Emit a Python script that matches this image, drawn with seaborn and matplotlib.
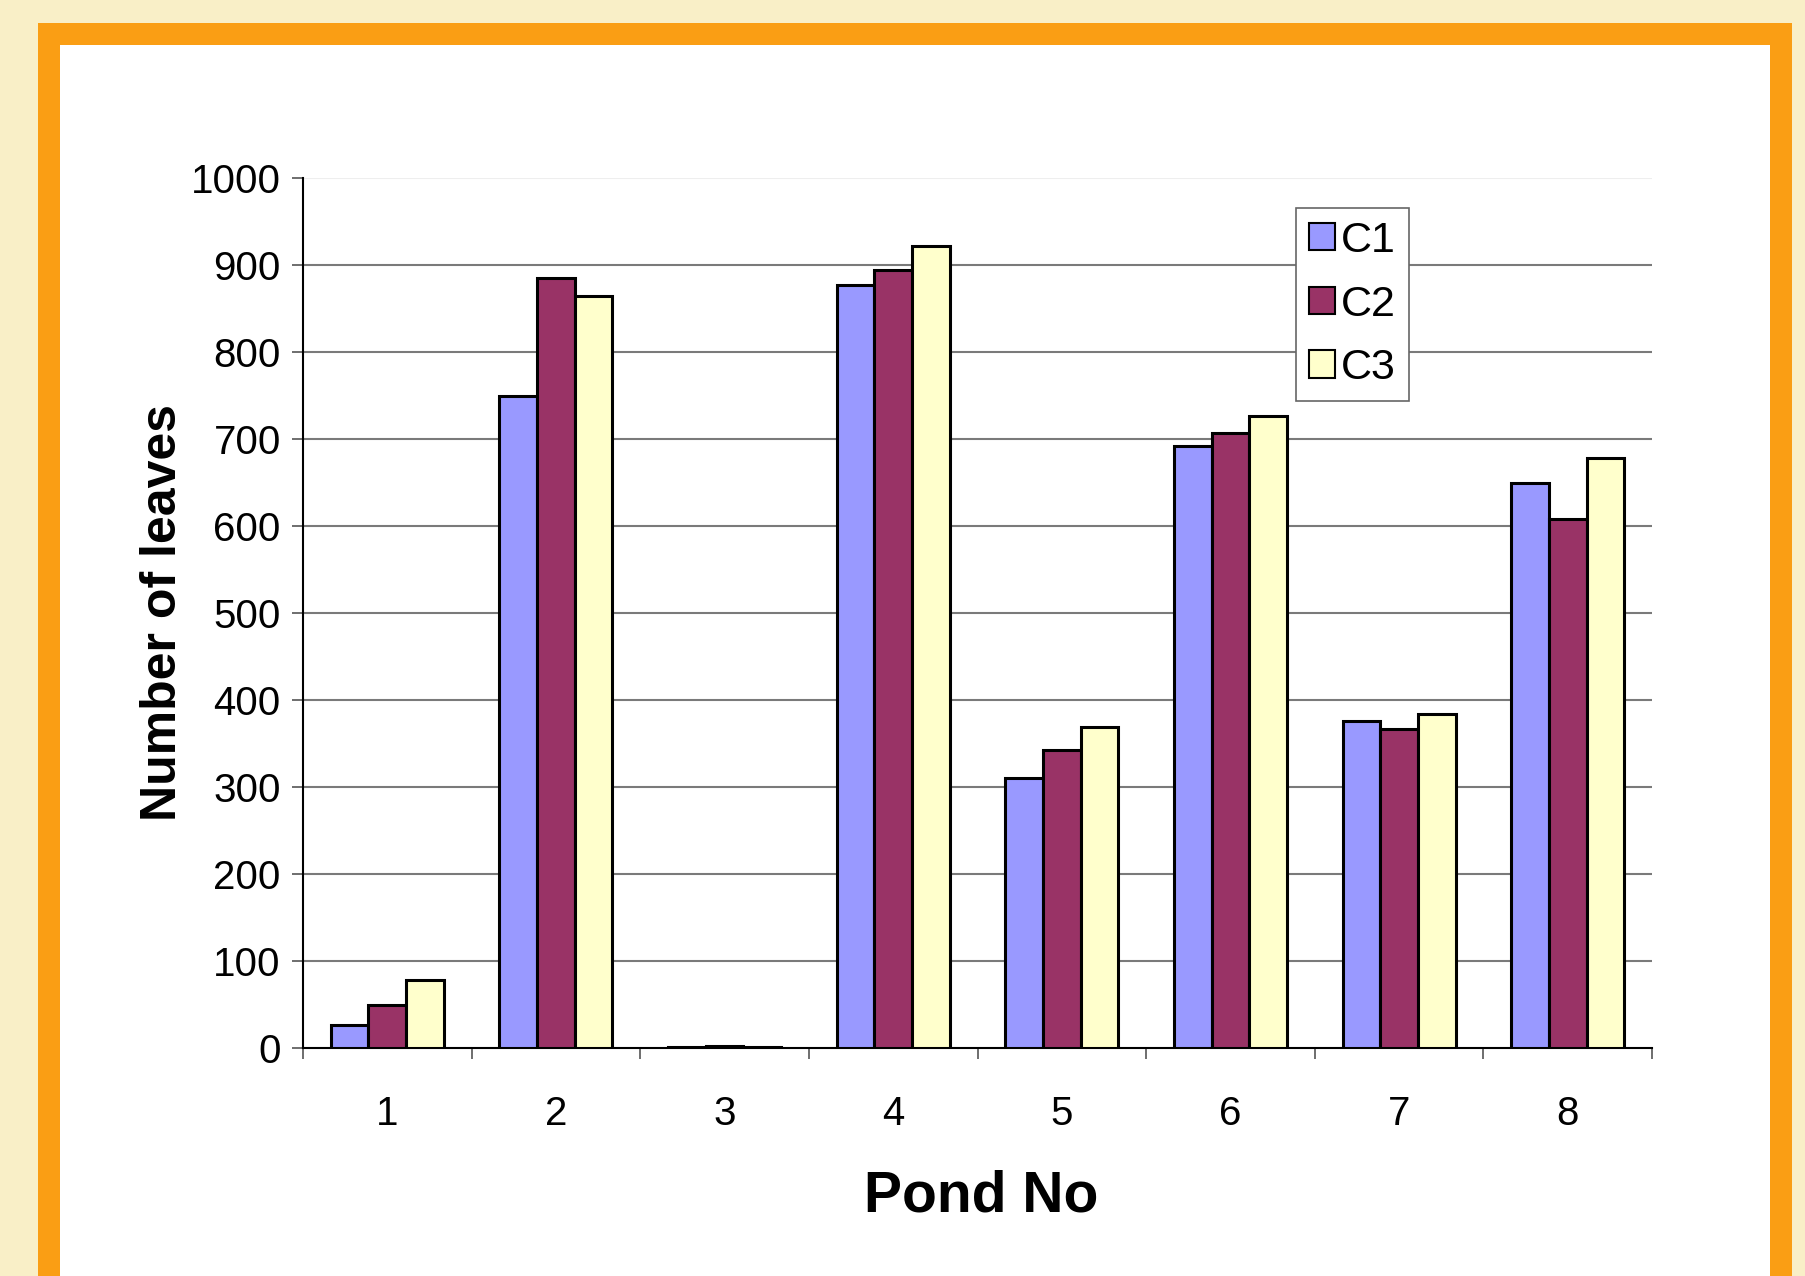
import numpy as np
import pandas as pd
import matplotlib
matplotlib.use("Agg")
import matplotlib.pyplot as plt
from matplotlib.patches import Rectangle
import seaborn as sns

# ---- data ----
ponds = ["1", "2", "3", "4", "5", "6", "7", "8"]
series_names = ["C1", "C2", "C3"]
c1 = [26, 750, 1, 877, 310, 692, 376, 650]
c2 = [50, 885, 2, 894, 342, 707, 367, 608]
c3 = [78, 864, 1, 922, 369, 726, 384, 678]
colors = ["#9999FF", "#993366", "#FFFFCC"]
y_ticks = [0, 100, 200, 300, 400, 500, 600, 700, 800, 900, 1000]

df = pd.DataFrame({
    "Pond": ponds * 3,
    "Leaves": c1 + c2 + c3,
    "Series": [series_names[0]] * 8 + [series_names[1]] * 8 + [series_names[2]] * 8,
})

sns.set_style("white")
plt.rcParams["font.family"] = ["Liberation Sans", "DejaVu Sans"]
plt.rcParams["text.color"] = "black"
plt.rcParams["axes.labelcolor"] = "black"
plt.rcParams["xtick.color"] = "black"
plt.rcParams["ytick.color"] = "black"

W, H = 1805, 1276
fig = plt.figure(figsize=(W / 100, H / 100), dpi=100)
fig.patch.set_facecolor("#F9EFC7")

# frame: orange border and white panel
fig.patches.append(Rectangle((38 / W, 0), (1792 - 38) / W, (H - 23) / H,
                             transform=fig.transFigure, facecolor="#FA9E14",
                             edgecolor="none", zorder=-20))
fig.patches.append(Rectangle((60 / W, 0), (1770 - 60) / W, (H - 45) / H,
                             transform=fig.transFigure, facecolor="white",
                             edgecolor="none", zorder=-10))

ax = fig.add_axes([303 / W, (H - 1048) / H, (1652 - 303) / W, (1048 - 178) / H])
ax.set_facecolor("none")
ax.set_zorder(5)

sns.barplot(data=df, x="Pond", y="Leaves", hue="Series", order=ponds,
            hue_order=series_names, palette=colors, width=0.67, gap=0,
            edgecolor="black", linewidth=2.2, saturation=1, ax=ax, zorder=3)

ax.set_xlim(-0.5, 7.5)
ax.set_ylim(0, 1000)

# gridlines
ax.set_yticks(y_ticks)
ax.set_yticklabels([str(v) for v in y_ticks], fontsize=29)
ax.yaxis.grid(True, color="#7a7a7a", linewidth=1.5, zorder=0)
ax.set_axisbelow(True)
ax.tick_params(axis="y", length=8, width=1.2, color="#555555", pad=8,
               direction="out", left=True, labelcolor="black")
gl = ax.get_ygridlines()
gl[-1].set_color("#eeeeee")
gl[0].set_visible(False)

# x ticks: marks at boundaries, labels at centers
ax.set_xticks(np.arange(-0.5, 8.0, 1.0))
ax.set_xticklabels([""] * 9)
ax.set_xticks(np.arange(len(ponds)), labels=ponds, minor=True)
ax.tick_params(axis="x", which="major", length=8, width=1.2, color="#555555",
               direction="out", bottom=True)
ax.tick_params(axis="x", which="minor", length=0, pad=34, labelsize=29,
               labelcolor="black")

for s in ["top", "right"]:
    ax.spines[s].set_visible(False)
for s in ["left", "bottom"]:
    ax.spines[s].set_color("black")
    ax.spines[s].set_linewidth(1.5)

ax.set_xlabel("Pond No", fontsize=41, fontweight="bold", va="center", color="black")
ax.xaxis.set_label_coords(0.503, -0.171)
ax.set_ylabel("Number of leaves", fontsize=36, fontweight="bold", va="center",
              color="black")
ax.yaxis.set_label_coords(-0.104, 0.5)

leg = ax.legend(loc="upper left", bbox_to_anchor=(0.736, 0.9655), fontsize=31,
                frameon=True, fancybox=False, framealpha=1, edgecolor="#666666",
                handlelength=0.6, handleheight=0.6, handletextpad=0.15,
                labelspacing=0.55, borderpad=0.3, borderaxespad=0)
leg.get_frame().set_linewidth(1.2)
for t in leg.get_texts():
    t.set_color("black")
for p in leg.get_patches():
    p.set_edgecolor("black")
    p.set_linewidth(1.5)

fig.savefig("out.png", dpi=100, facecolor=fig.get_facecolor())
